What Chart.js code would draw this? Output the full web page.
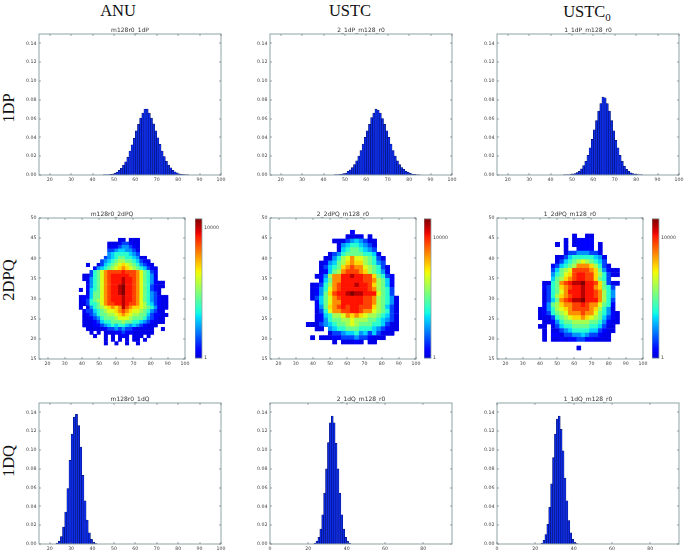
<!DOCTYPE html>
<html>
<head>
<meta charset="utf-8">
<script src="https://cdn.jsdelivr.net/npm/chart.js@4/dist/chart.umd.min.js"></script>
<style>
  html, body { margin: 0; padding: 0; background: #fff; }
  #page { position: relative; width: 685px; height: 550px; overflow: hidden; }
  canvas { position: absolute; filter: blur(0.35px); }
  .head { position: absolute; font-family: "Liberation Serif", serif; font-size: 16.5px; color: #111; white-space: nowrap; transform: translate(-50%, -50%); }
  .head.side { transform: translate(-50%, -50%) rotate(-90deg); }
  .head sub { font-size: 11px; line-height: 0; }
</style>
</head>
<body>
<div id="page"></div>
<script>
// bins of the 1D histograms
const binsDp = [45,46,47,48,49,50,51,52,53,54,55,56,57,58,59,60,61,62,63,64,65,66,67,68,69,70,71,72,73,74,75,76,77,78,79,80,81,82,83,84];
const binsDq = [23,24,25,26,27,28,29,30,31,32,33,34,35,36,37,38,39,40,41];

const anuDp = [.0001,.0002,.0003,.0006,.001,.002,.003,.005,.007,.0105,.014,.019,.0255,.032,.039,.047,.054,.0605,.066,.07,.07,.066,.0605,.0545,.047,.0395,.0325,.0255,.0195,.0145,.0105,.0075,.005,.0035,.0022,.0013,.0008,.0004,.0002,.0001];
const ustcDp = [.0001,.0003,.0005,.0009,.0015,.002,.004,.0055,.008,.011,.015,.02,.026,.033,.04,.047,.054,.061,.066,.07,.069,.066,.06,.054,.047,.04,.033,.026,.02,.015,.011,.008,.006,.004,.0028,.0018,.001,.0006,.0003,.0001];
const ustc0Dp = [0,.0001,.0002,.0003,.0005,.0009,.0015,.0025,.004,.0065,.01,.0145,.021,.029,.038,.048,.058,.068,.076,.083,.082,.076,.068,.058,.047,.037,.029,.021,.0145,.0095,.006,.004,.0024,.0014,.0008,.0004,.0002,.0001,0,0];

const anuDq = [.001,.003,.008,.018,.034,.059,.089,.117,.135,.138,.126,.103,.073,.046,.0255,.012,.005,.002,.0005];
const ustcDq = [.001,.003,.007,.016,.031,.054,.08,.108,.129,.136,.129,.107,.08,.054,.031,.016,.007,.003,.001];
const ustc0Dq = [.001,.004,.01,.021,.039,.064,.092,.117,.133,.136,.122,.099,.07,.046,.025,.012,.005,.002,.0005];

// colour bar position (percent) of each code used in the 2D rows, '.' is an empty cell
const heatLevels = { b: 9, B: 12, L: 19, l: 27, C: 33, T: 40, G: 48, g: 55, Y: 62, y: 68, O: 76, R: 84, r: 89, D: 95, X: 100 };

// rows run from the top of each map downwards
const anuHeat = [
  '...........bb.bbb',
  '........bbbBLLBbb',
  '........bBBLllLBb',
  '........LLlCCllLb',
  '........lCTTTTClL',
  '.......LlCTGGTTClbb',
  '......LlCTGggGGTCLBb',
  '..b..bLCTGgYyYgGTlLBb',
  '....BlCTGgYyOyYgGTCLBb',
  '...LTGYORRRRrRRROYGTLB',
  '.bbLTGYORrrrrrRROYGTlb',
  '.bBlTGYORrrrDrrROYGTlB',
  '..blTGYORrrrDrrROYGTlBbb',
  '..BlTGYORrrDXrrROYGTLBbb',
  'b.BCTGYORrrDXrrROYGTLBb',
  '..bCGGYORrrDXrrROYGTlLb',
  'bBBCGGYORrrrDrrROYGTlLBbb',
  'bBLTGgYORrrrDrrROYGTlLBbb',
  'bbLTTGYORRrrDrRROYgTCLBbb',
  'b.blTGgYyOyODROyyYgGTlBbb',
  '.BLLCTGgYYyOROyYYgGTlLbb',
  '.bBLlTGGggYyOyYggGGCLBBbb',
  '.bbBLlTGGGgYYYgGGGTlLBbb',
  '.bbbBLCTTGGGgGGTTClLBbbb',
  '.bbbBBLlCTCTTClClLBbbb',
  '..bbbbbBLLlLlLLBbbbbb..b',
  '...b.b.bbbBBLBBbbbbbb',
  '....b..b.b.bBb.bbb.b',
  '.......b.b.b.b.bb.b',
  '.......b..b..b..b'
];

const ustcHeat = [
  '..........B',
  '.........bbbb.b',
  '......bbbLlClLbb',
  '.......blCTTClLb',
  '.......bCTGGTClL',
  '.....bLlTGGGGTTCb',
  '....bblTgYOYYgGTLb',
  '...bBlCGgyOyygGTlL',
  '...bLCTGyOROOYgGTLb',
  '...bBCGgORRROygGTlb',
  '..bBlgOOrrDrrRRyGTLB',
  '...BCGOOrrrrrRROgGCB',
  '.bBLTgORrrrDrrRygGCB',
  '.bBlTYORrrrrrrROgGTL',
  '.bBlGyRrrDXDDrrrYGTL',
  '.bLCGYORrrrrrRROgGTlb',
  '..BCGYOOrrrrrRROgGTlb',
  '..BlGyORrRrrRRRygGCLb',
  '..bLTYOORRrrROOYgGTLb',
  '..bBCTggYOyOyYggGTCLb',
  '..bBlTGGggYgggGGTClLb',
  'bbbLlCTGGgYgGGGTTCLbb',
  '..bb.lCTTGGGTTTClLBbb',
  '.....bLLlCCTlCLCLbbb',
  '.b.bbbBBLLLlLLBbbb',
  '......b.bbbBb.bb'
];

const ustc0Heat = [
  '........b..bb',
  '......b.bBBBB',
  '....b.b.bBBBB.b',
  '......b..BBBB.b',
  '......bLLlllLLb',
  '....bbLCTTTTTClb',
  '....bLCTGgYgGTCL',
  '...BLCTGgOOOygTLb',
  '...LCGgYRRRROyGlBbb',
  '...lTGYyRrrRRygTLbb',
  '...CGgyORrrRRyGTL',
  '.bbTGORrDDXrrRyGLbb',
  '.BLTGyORrrDrrOyGTL',
  '.bLTGYOrrrDrrROgTl',
  '.bLTgyORrrDrrROgTl',
  '.bLCGORrDDXrrrOgTL',
  '.BlGgyOORRrROOYGTB',
  'bBlTgYyORRRROygTlb',
  'bBLTGgYOOOROOYGTlBb',
  'bbbLTGgYyyOyYgGCLBb',
  '.bbBlTGGggggGGTlBbb',
  'bb.bLCTTGGGGTTCLbb',
  '.b.bbLlCTTTTCCLBbb',
  '.b.BBbLLllClLLBbb',
  '.b.bbBbBBLLBBbbbb',
  '',
  '.........b'
];

const tickFamily = 'DejaVu Sans';
const tickColor = '#444';
const frameColor = '#8ea3a3';

// matplotlib's jet, as breakpoints per channel
const jetR = [[0,0],[.35,0],[.66,1],[.89,1],[1,.5]];
const jetG = [[0,0],[.125,0],[.375,1],[.64,1],[.91,0],[1,0]];
const jetB = [[0,.5],[.11,1],[.34,1],[.65,0],[1,0]];

function channel(stops, t) {
  for (let i = 1; i < stops.length; i++) {
    if (t <= stops[i][0]) {
      const [a, av] = stops[i - 1], [b, bv] = stops[i];
      return Math.round(255 * (av + (bv - av) * (t - a) / (b - a)));
    }
  }
  return Math.round(255 * stops[stops.length - 1][1]);
}
const jet = t => `rgb(${channel(jetR, t)},${channel(jetG, t)},${channel(jetB, t)})`;

// matplotlib style frame: ticks point inwards, on all four sides
const frameTicks = {
  id: 'frameTicks',
  afterDatasetsDraw(chart) {
    const { ctx, chartArea: a, scales } = chart;
    ctx.save();
    ctx.strokeStyle = frameColor;
    ctx.lineWidth = 1;
    ctx.strokeRect(a.left, a.top, a.right - a.left, a.bottom - a.top);
    ctx.strokeStyle = '#667';
    ctx.lineWidth = 0.6;
    ctx.beginPath();
    scales.x.ticks.forEach((t, i) => {
      const p = Math.round(scales.x.getPixelForTick(i));
      ctx.moveTo(p, a.top); ctx.lineTo(p, a.top + 2);
      ctx.moveTo(p, a.bottom); ctx.lineTo(p, a.bottom - 2);
    });
    scales.y.ticks.forEach((t, i) => {
      const p = Math.round(scales.y.getPixelForTick(i));
      ctx.moveTo(a.left, p); ctx.lineTo(a.left + 2, p);
      ctx.moveTo(a.right, p); ctx.lineTo(a.right - 2, p);
    });
    ctx.stroke();
    ctx.restore();
  }
};

const page = document.getElementById('page');

function addCanvas(left, top, width, height) {
  const c = document.createElement('canvas');
  c.width = width;
  c.height = height;
  c.style.left = left + 'px';
  c.style.top = top + 'px';
  page.appendChild(c);
  return c;
}

function addHead(html, x, y, side) {
  const d = document.createElement('div');
  d.className = side ? 'head side' : 'head';
  d.innerHTML = html;
  d.style.left = x + 'px';
  d.style.top = y + 'px';
  page.appendChild(d);
}

const SIDE = 35, RIGHT = 10, TITLE = 10, BELOW = 14;

function axisOptions(xMin, xMax, xStep, yMin, yMax, yStep, yFormat) {
  const font = { family: tickFamily, size: 4.7 };
  return {
    x: {
      type: 'linear', offset: false, min: xMin, max: xMax,
      grid: { display: false, drawTicks: false }, border: { display: false },
      ticks: { stepSize: xStep, includeBounds: false, autoSkip: false, maxRotation: 0, color: tickColor, font, padding: 1.5 },
      afterFit(s) { s.height = BELOW; }
    },
    y: {
      min: yMin, max: yMax,
      grid: { display: false, drawTicks: false }, border: { display: false },
      ticks: { stepSize: yStep, includeBounds: false, autoSkip: false, color: tickColor, font, padding: 2.5, callback: yFormat },
      afterFit(s) { s.width = SIDE; }
    }
  };
}

function panelOptions(title, scales) {
  return {
    responsive: false,
    animation: false,
    layout: { padding: { right: RIGHT } },
    plugins: {
      legend: { display: false },
      tooltip: { enabled: false },
      title: {
        display: true, text: title, color: '#333', fullSize: false,
        font: { family: tickFamily, size: 6, weight: 'normal', lineHeight: 1 },
        padding: { top: 3, bottom: 1 }
      }
    },
    scales
  };
}

function histogram(left, top, title, bins, values, xMin, xMax, xStep) {
  const canvas = addCanvas(left - SIDE, top - TITLE, 182 + SIDE + RIGHT, 141 + TITLE + BELOW);
  new Chart(canvas, {
    type: 'bar',
    data: {
      datasets: [{
        data: bins.map((b, i) => ({ x: b + 0.5, y: values[i] })),
        backgroundColor: '#0c2ce6',
        borderColor: '#000a5c',
        borderWidth: 0.5,
        barPercentage: 1,
        categoryPercentage: 1
      }]
    },
    options: panelOptions(title, axisOptions(xMin, xMax, xStep, 0, 0.15, 0.02, v => v.toFixed(2))),
    plugins: [frameTicks]
  });
}

function heatmap(left, top, title, rows, xStart, xStep, yStart, yStep) {
  const canvas = addCanvas(left - SIDE, top - TITLE, 146 + SIDE + RIGHT, 141 + TITLE + BELOW);
  const cells = [];
  rows.forEach((row, r) => {
    [...row].forEach((code, c) => {
      if (code === '.') return;
      cells.push({
        x: xStart + xStep * (c + 0.5),
        y: [yStart - yStep * (r + 1), yStart - yStep * r],
        level: heatLevels[code]
      });
    });
  });
  new Chart(canvas, {
    type: 'bar',
    data: {
      datasets: [{
        data: cells,
        backgroundColor: ctx => jet(ctx.raw.level / 100),
        borderColor: ctx => jet(ctx.raw.level / 100),
        borderWidth: 0.3,
        borderSkipped: false,
        barPercentage: 1,
        categoryPercentage: 1
      }]
    },
    options: panelOptions(title, axisOptions(15, 100, 10, 15, 50, 5, v => v)),
    plugins: [frameTicks]
  });
}

function colorBar(left, top, maxCount) {
  const canvas = addCanvas(left, top - 4, 34, 141 + 8);
  new Chart(canvas, {
    type: 'bar',
    data: {
      labels: [''],
      datasets: [{
        data: [[1, maxCount]],
        barPercentage: 1,
        categoryPercentage: 1,
        backgroundColor: ctx => {
          const area = ctx.chart.chartArea;
          if (!area) return '#00f';
          const g = ctx.chart.ctx.createLinearGradient(0, area.bottom, 0, area.top);
          // the foot of the bar in the reference is already plain blue
          for (let i = 0; i <= 40; i++) g.addColorStop(i / 40, jet(0.07 + 0.93 * i / 40));
          return g;
        }
      }]
    },
    options: {
      responsive: false,
      animation: false,
      layout: { padding: { top: 4, bottom: 4 } },
      plugins: { legend: { display: false }, tooltip: { enabled: false } },
      scales: {
        x: { display: false },
        y: {
          type: 'logarithmic', position: 'right', min: 1, max: maxCount,
          grid: { display: false, drawTicks: false }, border: { display: false },
          afterBuildTicks(s) { s.ticks = [{ value: 1 }, { value: 10000 }]; },
          ticks: { autoSkip: false, color: tickColor, font: { family: tickFamily, size: 4.7 }, padding: 2, callback: v => String(v) },
          afterFit(s) { s.width = 27; }
        }
      }
    },
    plugins: [{
      id: 'barFrame',
      afterDatasetsDraw(chart) {
        const { ctx, chartArea: a } = chart;
        ctx.save();
        ctx.strokeStyle = frameColor;
        ctx.lineWidth = 0.8;
        ctx.strokeRect(a.left, a.top, a.right - a.left, a.bottom - a.top);
        ctx.restore();
      }
    }]
  });
}

addHead('ANU', 118, 11);
addHead('USTC', 350, 11);
addHead('USTC<sub>0</sub>', 587, 12);
addHead('1DP', 9, 108, true);
addHead('2DPQ', 9, 280, true);
addHead('1DQ', 9, 461, true);

histogram(39, 34, 'm128r0_1dP', binsDp, anuDp, 15, 100, 10);
histogram(270, 34, '2_1dP_m128_r0', binsDp, ustcDp, 15, 100, 10);
histogram(497, 34, '1_1dP_m128_r0', binsDp, ustc0Dp, 15, 100, 10);

heatmap(39, 218, 'm128r0_2dPQ', anuHeat, 38.3, 2.076, 45, 0.885);
heatmap(270, 218, '2_2dPQ_m128_r0', ustcHeat, 36, 2.567, 47, 1.09);
heatmap(497, 218, '1_2dPQ_m128_r0', ustc0Heat, 39, 2.49, 46.1, 1.07);

colorBar(195, 218, 18300);
colorBar(424, 218, 42000);
colorBar(652, 218, 42000);

histogram(39, 403, 'm128r0_1dQ', binsDq, anuDq, 15, 100, 10);
histogram(270, 403, '2_1dQ_m128_r0', binsDq, ustcDq, 0, 95, 20);
histogram(497, 403, '1_1dQ_m128_r0', binsDq, ustc0Dq, 0, 95, 20);
</script>
</body>
</html>
